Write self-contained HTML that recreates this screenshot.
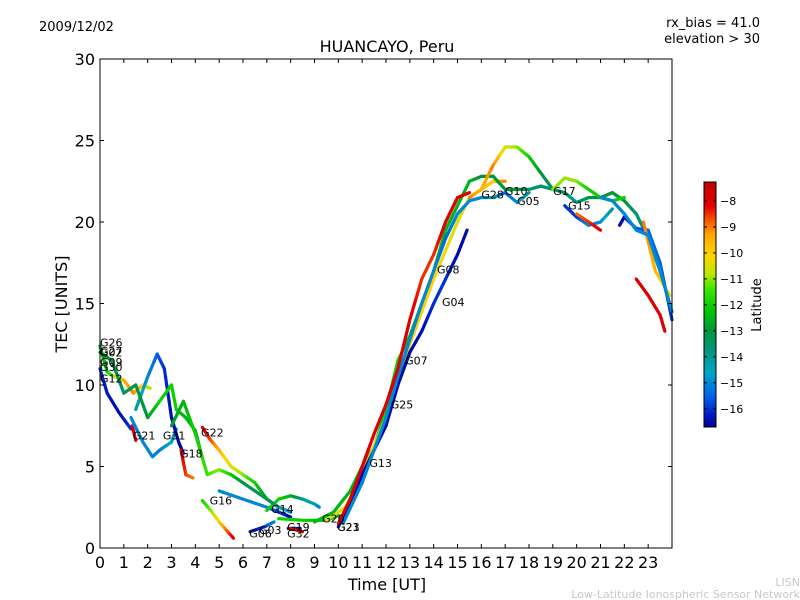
<!DOCTYPE html>
<html><head><meta charset="utf-8">
<style>
body{margin:0;background:#fff;}
svg{display:block;font-family:"DejaVu Sans","Liberation Sans",sans-serif;}
</style></head>
<body>
<svg id="chart" width="800" height="600" viewBox="0 0 800 600" xmlns="http://www.w3.org/2000/svg">
<rect width="800" height="600" fill="#fff"/>
<text x="39" y="31" font-size="13">2009/12/02</text>
<text x="760" y="27" font-size="13" text-anchor="end">rx_bias = 41.0</text>
<text x="760" y="43" font-size="13" text-anchor="end">elevation &gt; 30</text>
<text x="387" y="52" font-size="16" text-anchor="middle">HUANCAYO, Peru</text>
<g id="plot"></g>
<rect x="100" y="59" width="572" height="489" fill="none" stroke="#000" stroke-width="1"/>
<g id="axes"></g>
<text x="387" y="590" font-size="16" text-anchor="middle">Time [UT]</text>
<text transform="translate(67,304) rotate(-90)" font-size="16" text-anchor="middle">TEC [UNITS]</text>
<g id="cbar"></g>
<text transform="translate(761,305) rotate(-90)" font-size="13" text-anchor="middle">Latitude</text>
<text x="800" y="586" font-size="11" fill="#c8c8c8" text-anchor="end">LISN</text>
<text x="800" y="598" font-size="11" fill="#c8c8c8" text-anchor="end">Low-Latitude Ionospheric Sensor Network</text>
</svg>
<script>
const xTicks=[0,1,2,3,4,5,6,7,8,9,10,11,12,13,14,15,16,17,18,19,20,21,22,23];
const yTicks=[0,5,10,15,20,25,30];
const cbarTicks=[-8,-9,-10,-11,-12,-13,-14,-15,-16];
const latMin=-16.7, latMax=-7.27;
// each track: hours, tec, latitude
const trackHours=[
[0,0.3,0.8,1.3],
[1.35,1.5],
[1.3,1.8,2.2,2.5,3,3.2],
[0,0.3,0.6,1,1.4,1.8,2.1],
[1.5,2,2.4,2.7,3,3.3,3.5],
[0,0.5,1,1.5,2,2.5,3,3.2,3.6,4,4.3],
[3,3.5,4,4.5,5,5.5,6,7,7.5,8],
[4.3,4.7,5,5.3,5.6],
[5,6,7,7.5,8],
[7,7.5,8,8.5,9,9.2],
[7.5,8.5,9.5,10],
[6.3,6.9,7.3],
[7.9,8.4],
[8,8.5],
[4.3,4.6,5,5.5,6,6.5,7,7.5],
[3.4,3.6,3.9],
[9,9.8,10.5,11,11.5,12,12.5,13,13.5,14,14.5,15,15.5,16,16.5],
[9.5,10.3,11,12,13,14,15,15.5,16,16.5,17,17.5,18,18.5,19],
[10,10.5,11,12,12.5,13,13.5,14,14.5,15,15.4],
[10.2,11,12,12.5,13,13.5,14,14.5,15,15.5,16,16.5,17,17.5,18],
[10,10.5,11,11.5,12,12.5,13,13.5,14,14.5,15,15.5],
[15.5,16,16.5,17],
[16.5,17,17.5,18,18.5,19,19.5,20,20.5,21,21.5,22,22.5,23,23.5,23.9],
[19,19.5,20,20.5,21,21.5,22],
[19.5,20,20.5,21,21.5],
[20,20.5,21],
[21.8,22,22.5,23,23.5,24],
[22.5,23,23.5,23.7],
[22.8,23.3,23.9],
[21,21.5,22,22.5,23,23.5,24]
];
const trackTec=[
[11,9.5,8.3,7.3],
[7.5,6.6],
[8,6.5,5.6,6,6.5,7.3],
[12.4,10.8,10.5,10.3,9.5,10,9.8],
[8.5,10.5,11.9,11,8,6.5,5.8],
[12,11.5,9.5,10,8,9,10,8.5,8,7.2,5.5],
[7.5,9,7,4.5,4.8,4.5,4,3,2.5,2.2],
[2.9,2.2,1.6,1.1,0.6],
[3.5,3,2.5,2.2,1.9],
[2.3,3,3.2,3,2.7,2.5],
[1.8,1.7,1.7,2],
[1,1.3,1.6],
[1.2,1.2],
[1.2,1],
[7.4,6.7,6,5,4.5,4,3,2.5],
[6,4.5,4.3],
[1.6,2.2,3.5,5,6.2,8.5,11.5,13,15,17,19.5,21,22.5,22.8,22.8],
[1.7,2.5,4.5,8,12.5,16.5,20,21.5,22,23.5,24.6,24.6,24,23,22],
[1.3,2.8,4.5,7.5,10,12,13.3,15,16.5,18,19.5],
[1.5,4,8,10.5,12.8,15,17,19,20.5,21.3,21.5,21.5,21.8,21.2,21.8],
[1.5,3,5,7,8.8,11,14,16.5,18,20,21.5,21.8],
[21.5,22,22.5,22.5],
[22.8,22,22,22,22.2,22,21.8,21.2,21.5,21.5,21.8,21.3,20.5,19,17,15],
[22,22.7,22.5,22,21.5,21.3,21.5],
[21,20.3,19.8,20,20.8],
[20.5,20,19.5],
[19.8,20.3,19.6,19.5,17.5,14],
[16.5,15.5,14.3,13.3],
[20,17,15.5],
[21.5,21.3,20.5,19.5,19.2,17,14.5]
];
const trackLat=[
[-16,-16.3,-16.5,-16],
[-8,-8],
[-15,-15,-15,-15.2,-14.5,-14],
[-13,-12,-11,-9.5,-9,-10,-11],
[-14,-15,-15.5,-16,-16.5,-16.5,-16.5],
[-13,-13,-13.5,-13,-13,-12,-12,-12,-12.5,-13,-13],
[-13,-12.5,-12,-11.5,-11,-12,-13,-13.5,-14,-15],
[-12,-11,-10,-9,-8],
[-15,-15,-15,-16,-16.5],
[-12,-12,-12.5,-14,-14.5,-15],
[-12,-12,-12.5,-12.5],
[-16.5,-16,-15],
[-16.5,-16.5],
[-8,-8],
[-8,-8.5,-9.5,-10.5,-11,-12,-13,-14],
[-8,-8.5,-9],
[-12.5,-12.5,-12.5,-12.5,-12,-12,-12,-12.5,-12,-12,-12.5,-12.5,-12.5,-13,-13],
[-10.5,-10.5,-10,-10,-10,-10,-10.5,-10.5,-9.5,-9,-10.5,-11,-12,-13,-13.5],
[-16.5,-16.5,-16.5,-16.5,-16.5,-16.5,-16.5,-16,-16,-16.5,-16.5],
[-15,-15,-15,-15,-15,-15,-15,-15.5,-15,-15,-15,-14.5,-15.5,-15,-14],
[-8,-8,-8,-8,-8,-8,-8,-8.5,-8.5,-8,-8,-8],
[-9,-9.5,-10,-9],
[-13,-13,-13,-13.5,-13.5,-13.5,-13.5,-14,-13,-13,-13,-13,-13.5,-14,-14,-14],
[-11,-11,-11,-12,-12,-12,-12],
[-16,-16,-15,-15,-14],
[-9,-8.5,-8],
[-16.5,-16.5,-16,-15.5,-15.5,-16],
[-8,-8,-8,-8],
[-9,-9.5,-10.5],
[-15,-15,-15,-15,-15,-15,-15]
];
const labelNames=["G26","G27","G02","G09","G30","G12","G21","G31","G18","G22","G16","G14","G06","G03","G19","G32","G20","G23","G21","G13","G25","G07","G08","G04","G28","G10","G05","G17","G15"];
const labelHours=[0,0,0,0,0,0,1.38,2.64,3.36,4.24,4.6,7.18,6.26,6.67,7.85,7.85,9.32,9.95,9.95,11.3,12.2,12.8,14.14,14.35,16.0,16.99,17.5,19.01,19.64];
const labelTec=[12.6,12.1,12.0,11.4,11.1,10.4,6.9,6.9,5.8,7.1,2.9,2.4,0.9,1.1,1.3,0.9,1.8,1.3,1.3,5.2,8.8,11.5,17.1,15.1,21.7,21.9,21.3,21.9,21.0];

const NS="http://www.w3.org/2000/svg";
const X0=100,X1=672,Y0=548,Y1=59;
const xs=h=>X0+h*(X1-X0)/24;
const ys=v=>Y0-v*(Y0-Y1)/30;
const cy=l=>182+(latMax-l)*(427-182)/(latMax-latMin);
const cmap=[[-16.7,[0,0,150]],[-16.2,[0,30,200]],[-15.5,[0,100,230]],[-14.6,[0,165,200]],[-13.8,[0,150,130]],[-13,[0,150,60]],[-12.2,[0,200,0]],[-11.4,[60,230,0]],[-10.8,[190,230,0]],[-10.1,[255,215,0]],[-9.3,[255,165,0]],[-8.7,[245,80,0]],[-8.2,[230,0,0]],[-7.27,[190,0,0]]];
function latColor(l){
 if(l<=cmap[0][0])return `rgb(${cmap[0][1].join(',')})`;
 for(let i=0;i<cmap.length-1;i++){
  const a=cmap[i],b=cmap[i+1];
  if(l<=b[0]){const t=(l-a[0])/(b[0]-a[0]);
   return `rgb(${a[1].map((c,k)=>Math.round(c+(b[1][k]-c)*t)).join(',')})`;}
 }
 return `rgb(${cmap[cmap.length-1][1].join(',')})`;
}
function mk(tag,attrs,parent){const e=document.createElementNS(NS,tag);for(const k in attrs)e.setAttribute(k,attrs[k]);parent.appendChild(e);return e;}
const plot=document.getElementById('plot');
trackHours.forEach((hs,i)=>{
 const g=mk('g',{},plot);
 
 
 for(let j=0;j<hs.length-1;j++){
  const steps=6;
  for(let s=0;s<steps;s++){
   const a=s/steps,b=(s+1)/steps;
   const h1=hs[j]+(hs[j+1]-hs[j])*a,h2=hs[j]+(hs[j+1]-hs[j])*b;
   const v1=trackTec[i][j]+(trackTec[i][j+1]-trackTec[i][j])*a,v2=trackTec[i][j]+(trackTec[i][j+1]-trackTec[i][j])*b;
   const l=trackLat[i][j]+(trackLat[i][j+1]-trackLat[i][j])*(a+b)/2;
   const ln=mk('line',{x1:xs(h1),y1:ys(v1),x2:xs(h2),y2:ys(v2),stroke:latColor(l),'stroke-width':3.2,'stroke-linecap':'round'},g);
   
   
  }
 }
});
labelNames.forEach((n,i)=>{
 const t=mk('text',{x:xs(labelHours[i]),y:ys(labelTec[i])+4,'font-size':11},plot);
 
 
 t.textContent=n;
});
const axes=document.getElementById('axes');
xTicks.forEach(h=>{
 const x=xs(h);
 mk('line',{x1:x,y1:Y0,x2:x,y2:Y0-4,stroke:'#000'},axes);
 mk('line',{x1:x,y1:Y1,x2:x,y2:Y1+4,stroke:'#000'},axes);
 const t=mk('text',{x:x,y:Y0+20,'font-size':16,'text-anchor':'middle'},axes);
 
 
 t.textContent=h;
});
yTicks.forEach(v=>{
 const y=ys(v);
 mk('line',{x1:X0,y1:y,x2:X0+4,y2:y,stroke:'#000'},axes);
 mk('line',{x1:X1,y1:y,x2:X1-4,y2:y,stroke:'#000'},axes);
 const t=mk('text',{x:X0-5,y:y+6,'font-size':16,'text-anchor':'end'},axes);
 
 
 t.textContent=v;
});
const cb=document.getElementById('cbar');
for(let k=0;k<245;k++){
 const l=latMax-(k+0.5)*(latMax-latMin)/245;
 mk('rect',{x:704,y:182+k,width:12,height:1.2,fill:latColor(l)},cb);
}
mk('rect',{x:704,y:182,width:12,height:245,fill:'none',stroke:'#000'},cb);
cbarTicks.forEach(l=>{
 const y=cy(l);
 mk('line',{x1:704,y1:y,x2:707,y2:y,stroke:'#000'},cb);
 mk('line',{x1:716,y1:y,x2:713,y2:y,stroke:'#000'},cb);
 const t=mk('text',{x:720,y:y+4,'font-size':11},cb);
 
 
 t.textContent='\u2212'+Math.abs(l);
});
</script>
</body></html>
